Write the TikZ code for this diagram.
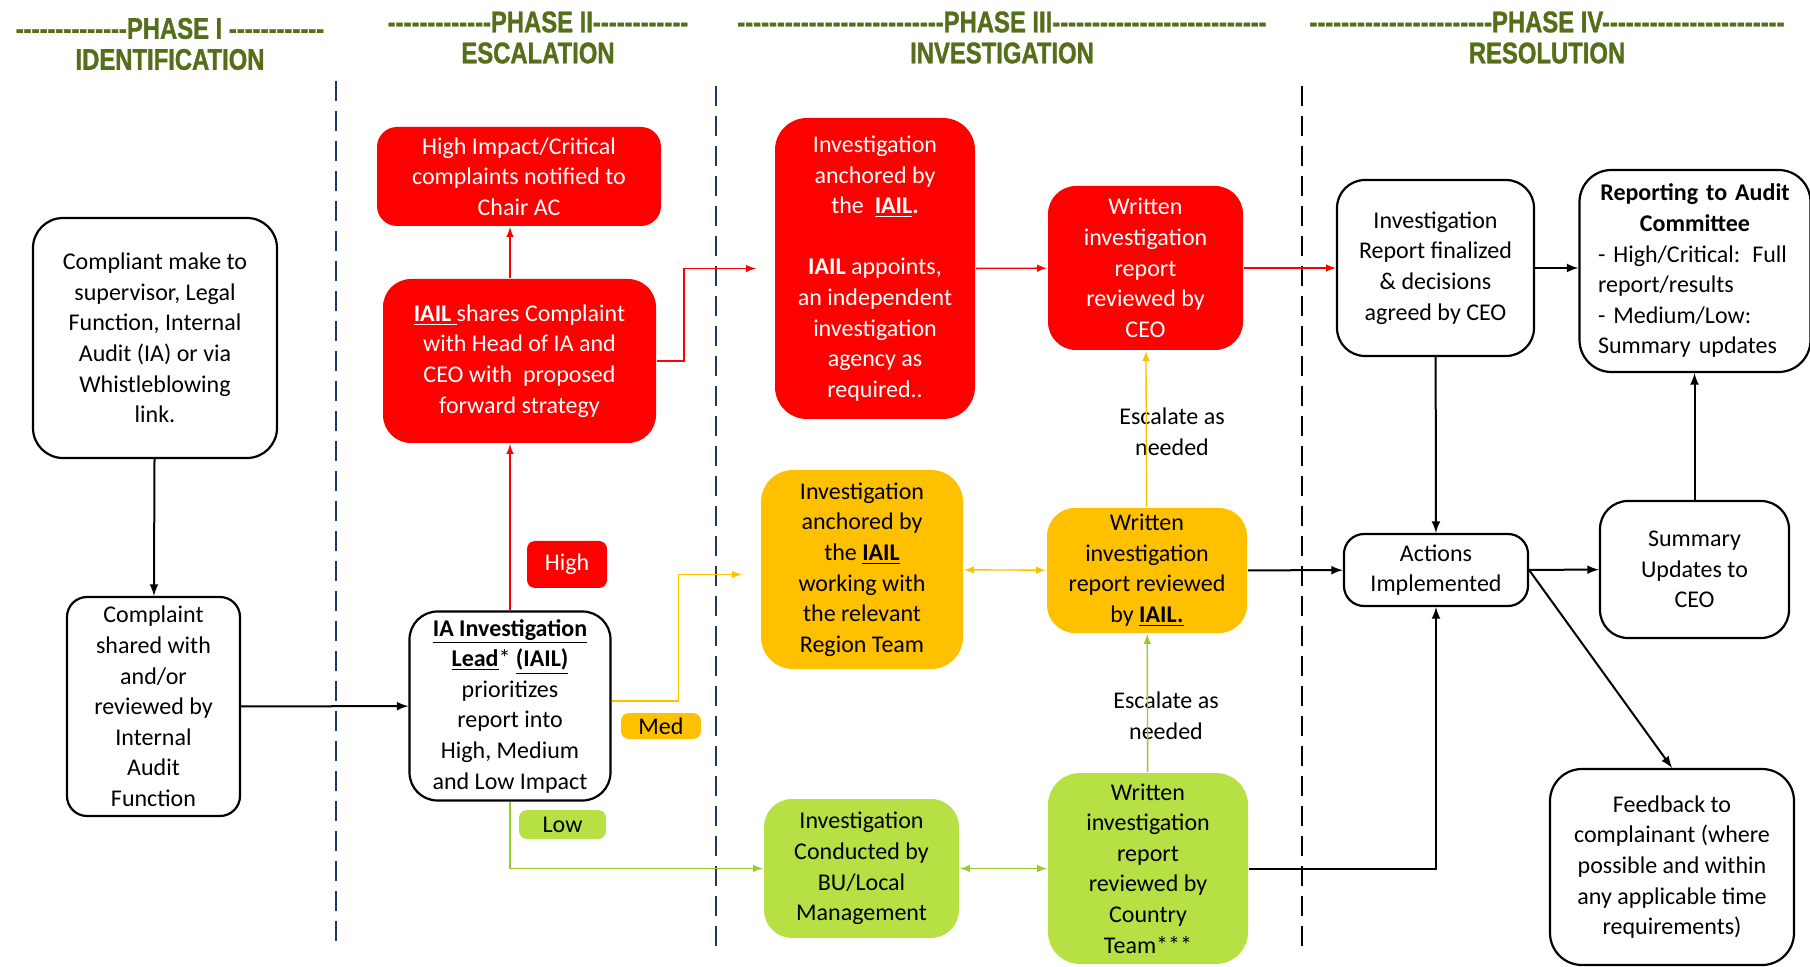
\documentclass[tikz,border=0pt]{standalone}
\usepackage{fontspec}
\setmainfont{Carlito}
\newfontfamily\hdrfont{Liberation Sans}[FakeStretch=0.8, FakeBold=1.2]
\usepackage{tikz}
\usetikzlibrary{arrows,positioning,calc}

\definecolor{hdrgreen}{RGB}{84,110,26}
\definecolor{navyline}{RGB}{31,56,100}
\definecolor{redbox}{RGB}{255,0,0}
\definecolor{orangebox}{RGB}{255,192,0}
\definecolor{greenbox}{RGB}{182,224,68}
\definecolor{greenline}{RGB}{150,204,40}

\newcommand{\dashrun}[1]{\foreach \k in {1,...,#1}{-\kern0pt}}
\newcommand{\ubf}[1]{\underline{\textbf{#1}}}

\begin{document}
\begin{tikzpicture}[
    x=0.5pt, y=-0.5pt,
    dims/.style 2 args={minimum width=#1*0.5pt, minimum height=#2*0.5pt},
    box/.style={draw, line width=1.1pt, rounded corners=10pt, align=center, inner sep=0pt, font=\fontsize{12}{15.3}\selectfont},
    box_red/.style={box, draw=none, fill=redbox, text=white},
    box_orange/.style={box, draw=none, fill=orangebox},
    box_green/.style={box, draw=none, fill=greenbox},
    tag/.style={box, draw=none, rounded corners=4pt},
    phase/.style={align=center, text=hdrgreen, font=\hdrfont\bfseries\fontsize{14.9}{15.5}\selectfont},
    note/.style={align=center, font=\fontsize{12}{15.3}\selectfont},
    divider/.style={line width=1pt, dash pattern=on 10pt off 5pt},
    arrow/.style={-latex, line width=1pt},
    arrow_red/.style={-latex, line width=0.7pt, redbox},
    arrow_orange/.style={-latex, line width=0.7pt, orangebox},
    arrow_green/.style={-latex, line width=0.7pt, greenline}
]
    \useasboundingbox (0,0) rectangle (1810,967);

    % Phase headings
    \node [phase] (ph1) at (170,44) {\dashrun{14}PHASE I \dashrun{12}\\IDENTIFICATION};
    \node [phase] (ph2) at (538,37.5) {\dashrun{13}PHASE II\dashrun{12}\\ESCALATION};
    \node [phase] (ph3) at (1002,37.5) {\dashrun{26}PHASE III\dashrun{27}\\INVESTIGATION};
    \node [phase] (ph4) at (1547,37.5) {\dashrun{23}PHASE IV\dashrun{23}\\RESOLUTION};

    % Phase dividers
    \draw [divider, navyline] (336,81) -- (336,947);
    \draw [divider, navyline] (716,86) -- (716,947);
    \draw [divider, black] (1302,86) -- (1302,952);

    % Phase I
    \node [box, dims={244}{240}, rounded corners=15pt] (comp) at (155,338) {Compliant make to\\supervisor, Legal\\Function, Internal\\Audit (IA) or via\\Whistleblowing\\link.};
    \node [box, dims={173}{219}] (shared) at (153.5,706.5) {Complaint\\shared with\\and/or\\reviewed by\\Internal\\Audit\\Function};

    % Phase II
    \node [box, dims={201}{189}, rounded corners=14pt] (lead) at (510,706) {\ubf{IA Investigation}\\\ubf{Lead}* \ubf{(IAIL)}\\prioritizes\\report into\\High, Medium\\and Low Impact};
    \node [box_red, dims={273}{164}, rounded corners=14pt] (share) at (519.5,361) {\ubf{IAIL }shares Complaint\\with Head of IA and\\CEO with\ \ proposed\\forward strategy};
    \node [box_red, dims={284}{99}] (notify) at (519,176.5) {High Impact/Critical\\complaints notified to\\Chair AC};
    \node [tag, fill=redbox, text=white, dims={80}{47}] (high) at (567,564.5) {High};
    \node [tag, fill=orangebox, dims={80}{26}] (med) at (661,726) {Med};
    \node [tag, fill=greenbox, dims={87}{29}] (low) at (562.5,824.5) {Low};

    % Phase III
    \node [box_red, dims={200}{301}, rounded corners=16pt] (anchor) at (875,268.5) {Investigation\\anchored by\\the\ \ \ubf{IAIL}\textbf{.}\\ \\\textbf{IAIL} appoints,\\an independent\\investigation\\agency as\\required..};
    \node [box_red, dims={195}{164}, rounded corners=14pt] (ceo) at (1145.5,268) {Written\\investigation\\report\\reviewed by\\CEO};
    \node [box_orange, dims={202}{199}, rounded corners=16pt] (region) at (862,569.5) {Investigation\\anchored by\\the \ubf{IAIL}\\working with\\the relevant\\Region Team};
    \node [box_orange, dims={200}{125}, rounded corners=14pt] (iailrev) at (1147,570.5) {Written\\investigation\\report reviewed\\by \ubf{IAIL.}};
    \node [box_green, dims={195}{139}, rounded corners=14pt] (local) at (861.5,868.5) {Investigation\\Conducted by\\BU/Local\\Management};
    \node [box_green, dims={200}{191}, rounded corners=16pt] (country) at (1148,868.5) {Written\\investigation\\report\\reviewed by\\Country\\Team***};
    \node [note] (esc1) at (1172,432) {Escalate as\\needed};
    \node [note] (esc2) at (1166,716) {Escalate as\\needed};

    % Phase IV
    \node [box, dims={197}{176}, rounded corners=14pt] (final) at (1435.5,268) {Investigation\\Report finalized\\\& decisions\\agreed by CEO};
    \node [box, dims={231}{202}, rounded corners=16pt, text width=97pt, align=left] (audit) at (1695,271) {{\centering\textbf{Reporting to Audit}\\\textbf{Committee}\par}\raggedright - High/Critical: Full\\report/results\\- Medium/Low:\\Summary updates};
    \node [box, dims={184}{72}] (actions) at (1436,570) {Actions\\Implemented};
    \node [box, dims={189}{137}, rounded corners=14pt] (summary) at (1694.5,569.5) {Summary\\Updates to\\CEO};
    \node [box, dims={244}{196}, rounded corners=16pt] (feedback) at (1672,867) {Feedback to\\complainant (where\\possible and within\\any applicable time\\requirements)};

    % Connections
    \draw [arrow] (comp) -- (shared);
    \draw [arrow] (shared) -- (lead);
    \draw [arrow_red] (lead.north) -- (lead.north |- share.south);
    \draw [arrow_red] (lead.north |- share.north) -- (lead.north |- notify.south);
    \draw [arrow_red] (share.east) -- ++(27,0) |- ([xshift=-9pt]anchor.west);
    \draw [arrow_orange] ([yshift=2.5pt]lead.east) -- ++(67,0) |- ([xshift=-9pt,yshift=-2.5pt]region.west);
    \draw [arrow_green] (lead.south) |- (local.west);

    \draw [arrow_red] (anchor) -- (ceo);
    \draw [arrow_red] (ceo) -- (final);
    \draw [arrow_orange, latex-latex] (region) -- (iailrev);
    \draw [arrow_green, latex-latex] (local) -- (country);
    \draw [arrow_orange] (iailrev) -- (ceo);
    \draw [arrow_green] (country) -- (iailrev);

    \draw [arrow] (iailrev) -- (actions);
    \draw [arrow] (country.east) -| (actions.south);
    \draw [arrow] (final) -- (actions);
    \draw [arrow] (final.east) -- (final.east -| audit.west);
    \draw [arrow] (actions) -- (summary);
    \draw [arrow] (summary) -- (summary |- audit.south);
    \draw [arrow] (actions.east) -- (feedback.north);

\end{tikzpicture}
\end{document}
